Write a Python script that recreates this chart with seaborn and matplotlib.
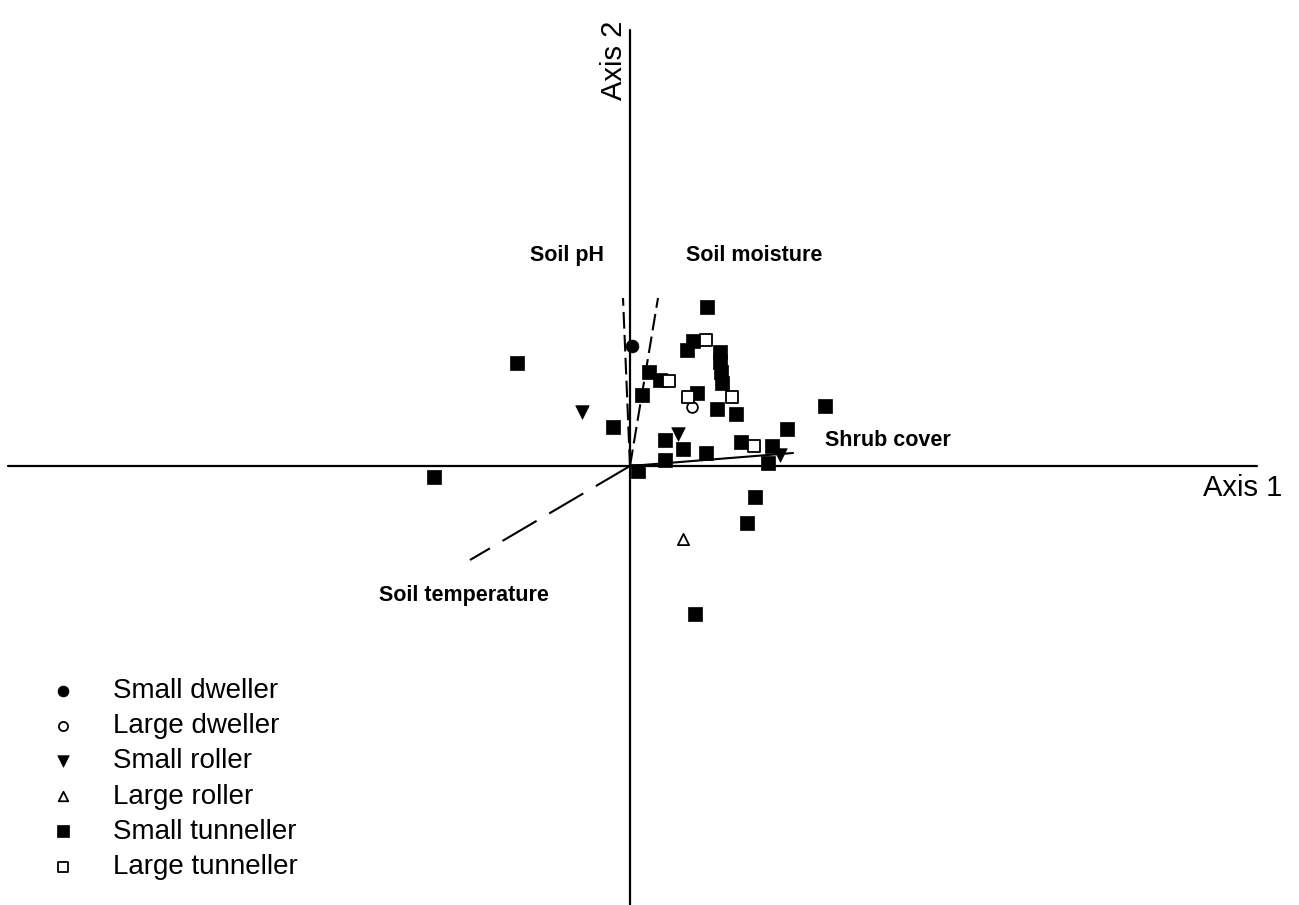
# Ordination biplot of dung beetle functional groups with environmental vectors

import matplotlib
matplotlib.use("Agg")
import numpy as np
import pandas as pd
import seaborn as sns
from matplotlib import pyplot as plt

sns.set_style("white")
plt.rcParams['font.family'] = ['Liberation Sans', 'DejaVu Sans']
plt.rcParams['text.color'] = 'black'

# site / group scores (Axis 1, Axis 2)
small_dweller_x = [0.02]
small_dweller_y = [1.20]
large_dweller_x = [0.62]
large_dweller_y = [0.59]
small_roller_x = [-0.48, 0.48, 1.50]
small_roller_y = [0.54, 0.32, 0.11]
large_roller_x = [0.53]
large_roller_y = [-0.73]
small_tunneller_x = [0.77, 0.57, 0.63, 0.90, 0.90, 0.91, 0.92, 0.19, 0.30, 0.12,
                     0.67, 0.87, 1.06, 1.95, -0.17, 1.57, 0.35, 0.53, 1.11, 1.42,
                     0.76, 0.35, 1.38, 0.08, -1.13, -1.96, 1.25, 1.17, 0.65]
small_tunneller_y = [1.59, 1.16, 1.25, 1.14, 1.04, 0.94, 0.83, 0.94, 0.86, 0.71,
                     0.73, 0.57, 0.52, 0.60, 0.39, 0.37, 0.26, 0.17, 0.24, 0.20,
                     0.13, 0.06, 0.03, -0.05, 1.03, -0.11, -0.31, -0.57, -1.48]
large_tunneller_x = [0.76, 0.39, 0.58, 1.02, 1.24]
large_tunneller_y = [1.26, 0.85, 0.69, 0.69, 0.20]

# environmental vectors (end points)
env_names = ["Soil pH", "Soil moisture", "Shrub cover", "Soil temperature"]
env_x = [-0.07, 0.28, 1.63, -1.60]
env_y = [1.68, 1.68, 0.13, -0.94]
env_label_x = [-0.63, 1.24, 2.58, -1.66]
env_label_y = [2.11, 2.11, 0.26, -1.29]

groups = [
    ("Small dweller", small_dweller_x, small_dweller_y, "o", "black", 85),
    ("Large dweller", large_dweller_x, large_dweller_y, "o", "white", 60),
    ("Small roller", small_roller_x, small_roller_y, "v", "black", 95),
    ("Large roller", large_roller_x, large_roller_y, "^", "white", 65),
    ("Small tunneller", small_tunneller_x, small_tunneller_y, "s", "black", 92),
    ("Large tunneller", large_tunneller_x, large_tunneller_y, "s", "white", 68),
]

fig = plt.figure(figsize=(12.99, 9.05), dpi=100)
ax = fig.add_axes([0, 0, 1, 1])
ax.set_xlim(-6.30, 6.69)
ax.set_ylim(-4.39, 4.66)
ax.axis("off")

# axes through origin
ax.axhline(0, xmin=0.006, xmax=0.968, color="black", lw=1.6, zorder=1)
ax.axvline(0, ymin=0.0, ymax=0.967, color="black", lw=1.6, zorder=1)

# vectors
styles = [(0, (8, 3)), (0, (8, 3)), "-", (0, (19, 7))]
for i in range(len(env_names)):
    ax.plot([0, env_x[i]], [0, env_y[i]], color="black", lw=1.5,
            linestyle=styles[i], zorder=2)
    ax.text(env_label_x[i], env_label_y[i], env_names[i], fontsize=15.5,
            fontweight="bold", ha="center", va="center")

# points
for name, xs, ys, mk, fc, size in groups:
    df = pd.DataFrame({"x": xs, "y": ys})
    sns.scatterplot(data=df, x="x", y="y", marker=mk, s=size, color=fc,
                    edgecolor="black", linewidth=1.3 if fc == "white" else 0.5,
                    label=name, ax=ax, zorder=3)

ax.text(5.73, -0.22, "Axis 1", fontsize=21, ha="left", va="center")
ax.text(-0.16, 4.06, "Axis 2", fontsize=21, ha="center", va="center", rotation=90)

ax.legend(loc="upper left", bbox_to_anchor=(49 / 1299, 1 - 678 / 905),
          frameon=False, fontsize=20, markerscale=0.85, handlelength=1.0,
          handletextpad=1.3, labelspacing=0.33, borderpad=0, borderaxespad=0)

plt.savefig("out.png", dpi=100)
